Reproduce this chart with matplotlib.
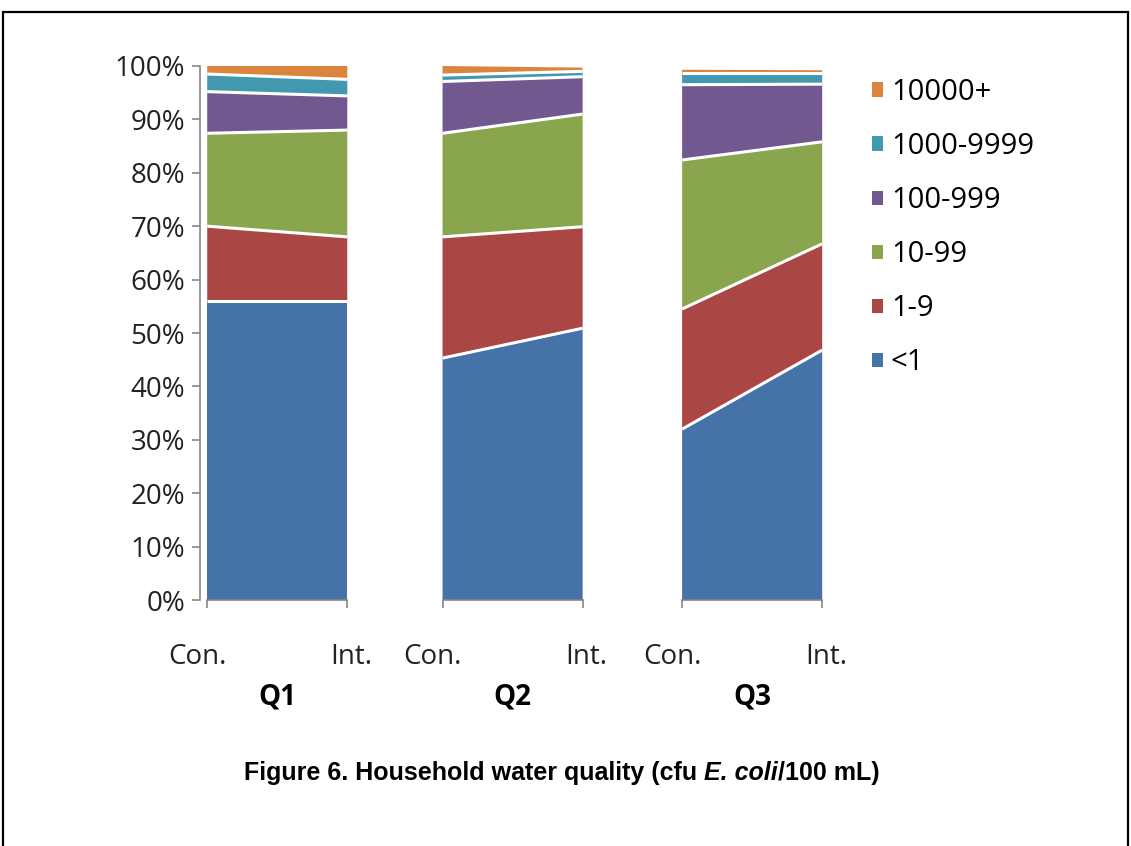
import matplotlib
matplotlib.use("Agg")
import matplotlib.pyplot as plt
from matplotlib.patches import Patch, Rectangle
from matplotlib.transforms import ScaledTranslation

# Share of household samples (%) in each E. coli count band
groups = ["Q1", "Q2", "Q3"]
arms = ["Con.", "Int."]
bands = ["<1", "1-9", "10-99", "100-999", "1000-9999", "10000+"]

# values per band: [Con., Int.] for each group
lt1 = {"Q1": [56.0, 56.0], "Q2": [45.3, 50.9], "Q3": [32.0, 46.8]}
b1_9 = {"Q1": [14.0, 12.0], "Q2": [22.7, 19.0], "Q3": [22.5, 19.9]}
b10_99 = {"Q1": [17.4, 20.0], "Q2": [19.4, 21.1], "Q3": [27.9, 19.1]}
b100_999 = {"Q1": [7.8, 6.4], "Q2": [9.7, 7.0], "Q3": [14.1, 10.8]}
b1000_9999 = {"Q1": [3.3, 3.1], "Q2": [1.2, 1.0], "Q3": [2.2, 2.1]}
b10000p = {"Q1": [1.5, 2.5], "Q2": [1.7, 0.7], "Q3": [0.6, 0.5]}

series = [lt1, b1_9, b10_99, b100_999, b1000_9999, b10000p]
colors = ["#4572A7", "#AA4643", "#89A54E", "#71588F", "#4198AF", "#DB843D"]

yticks = [0, 10, 20, 30, 40, 50, 60, 70, 80, 90, 100]
ytick_labels = [f"{v}%" for v in yticks]

# horizontal layout of the three panels (axis units)
group_x = [0.0, 1.68, 3.39]
span = 1.0

W, H = 1131, 846
fig = plt.figure(figsize=(W / 100, H / 100), dpi=100)
fig.patch.set_facecolor("white")

ax = fig.add_axes([203 / W, (H - 600) / H, 629 / W, 534 / H])
ax.set_xlim(-0.03, 4.46)
ax.set_ylim(0, 100)

grey = "#868686"
font = "Open Sans"
for x0, g in zip(group_x, groups):
    xs = [x0, x0 + span]
    base = [0.0, 0.0]
    tops = []
    for s, c in zip(series, colors):
        top = [base[0] + s[g][0], base[1] + s[g][1]]
        ax.fill_between(xs, base, top, facecolor=c, edgecolor="none",
                        linewidth=0, zorder=2)
        tops.append(top)
        base = top
    # white separators between the stacked bands
    for top in tops[:-1]:
        ax.plot(xs, top, color="white", lw=2.2, zorder=3,
                solid_capstyle="butt")
    ax.plot(xs, [0, 0], color=grey, lw=1.2, zorder=4, clip_on=False)
    ax.text(x0 + span / 2, -18.2, g, ha="center", va="center",
            fontsize=20, fontweight="bold", family=font)

for side in ["top", "right", "bottom"]:
    ax.spines[side].set_visible(False)
ax.spines["left"].set_color(grey)
ax.spines["left"].set_linewidth(1.2)
ax.spines["left"].set_position(("outward", 2))

ax.set_yticks(yticks)
ax.set_yticklabels(ytick_labels, family=font, fontsize=20, color="#222222")
ax.tick_params(axis="y", direction="out", length=6, width=1.2, color=grey, pad=5)

xt = []
xl = []
for x0 in group_x:
    xt += [x0, x0 + span]
    xl += arms
ax.set_xticks(xt)
ax.set_xticklabels(xl, family=font, fontsize=20, color="#222222")
ax.tick_params(axis="x", direction="out", length=6, width=1.2, color=grey, pad=25)
for lab in ax.get_xticklabels():
    dx = -10 if lab.get_text() == "Con." else 4
    lab.set_transform(lab.get_transform() + ScaledTranslation(dx / 100, 0, fig.dpi_scale_trans))

handles = [Patch(facecolor=c, edgecolor="none") for c in colors][::-1]
leg = fig.legend(handles, bands[::-1], loc="upper left",
                 bbox_to_anchor=(872 / W, 1 - 78 / H),
                 frameon=False, prop={"family": font, "size": 21},
                 handlelength=0.38, handleheight=0.38, handletextpad=0.27,
                 labelspacing=0.86, borderpad=0, borderaxespad=0)

# caption below the chart
cap_y = 1 - 780 / H
t1 = fig.text(244 / W, cap_y, "Figure 6. Household water quality (cfu ",
              family="Liberation Sans", fontweight="bold", fontsize=18,
              ha="left", va="baseline")
t2 = fig.text(0, 0, "E. coli", family="Liberation Sans", fontweight="bold",
              style="italic", fontsize=18, ha="left", va="baseline")
t3 = fig.text(0, 0, "/100 mL)", family="Liberation Sans", fontweight="bold",
              fontsize=18, ha="left", va="baseline")
fig.canvas.draw()
r = fig.canvas.get_renderer()
b1 = t1.get_window_extent(r)
t2.set_position((b1.x1 / W, cap_y))
fig.canvas.draw()
b2 = t2.get_window_extent(r)
t3.set_position((b2.x1 / W, cap_y))
fig.canvas.draw()
b3 = t3.get_window_extent(r)
shift = ((244 + 880) / 2 - (b1.x0 + b3.x1) / 2) / W
for t in (t1, t2, t3):
    x, y = t.get_position()
    t.set_position((x + shift, y))

# outer frame
fig.add_artist(Rectangle((3 / W, -0.05), (1128 - 3) / W, 1.05 - 12 / H,
                         transform=fig.transFigure, fill=False,
                         edgecolor="black", linewidth=1.6))

fig.savefig("out.png", dpi=100, facecolor="white")
